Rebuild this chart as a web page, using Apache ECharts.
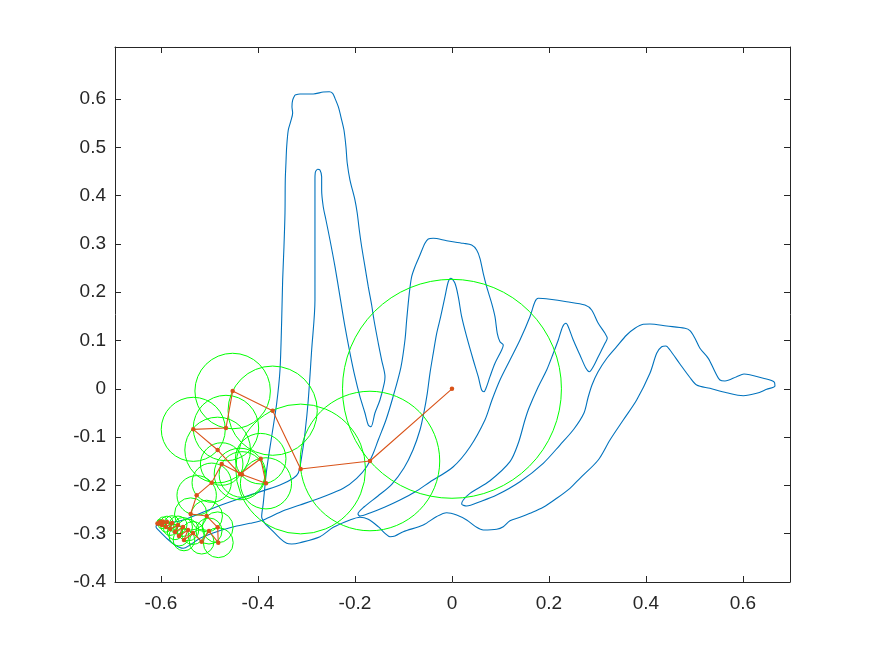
<!DOCTYPE html>
<html><head><meta charset="utf-8">
<script src="https://cdn.jsdelivr.net/npm/echarts@6/dist/echarts.min.js"></script>
<style>html,body{margin:0;padding:0;background:#fff;}#c{width:875px;height:656px;}</style>
</head><body><div id="c"></div>
<script>
const xTicks = [-0.6,-0.4,-0.2,0,0.2,0.4,0.6];
const yTicks = [-0.4,-0.3,-0.2,-0.1,0,0.1,0.2,0.3,0.4,0.5,0.6];

// outline, in data units
const leftEdge = [[-0.3237,0.6083],[-0.3285,0.5979],[-0.3299,0.5841],[-0.3285,0.5710],[-0.3326,0.5530],[-0.3375,0.5358],[-0.3408,0.5012],[-0.3423,0.4675],[-0.3437,0.4323],[-0.3443,0.3640],[-0.3464,0.2942],[-0.3491,0.2253],[-0.3511,0.1424],[-0.3546,0.0389],[-0.3614,-0.0300],[-0.3718,-0.0992],[-0.3821,-0.1681],[-0.3891,-0.2371],[-0.3924,-0.2648],[-0.3856,-0.2785],[-0.3753,-0.2888],[-0.3546,-0.3095],[-0.3408,-0.3199],[-0.3305,-0.3213]];
const bottomEdge = [[-0.3134,-0.3186],[-0.2722,-0.3062],[-0.2447,-0.2868],[-0.2103,-0.2716],[-0.1897,-0.2660],[-0.1726,-0.2702],[-0.1520,-0.2855],[-0.1381,-0.2992],[-0.1278,-0.3062],[-0.1175,-0.3048],[-0.1004,-0.2959],[-0.0592,-0.2820],[-0.0315,-0.2644],[-0.0109,-0.2565],[0.0097,-0.2613],[0.0303,-0.2716],[0.0509,-0.2868],[0.0645,-0.2923],[0.0922,-0.2909],[0.1058,-0.2855],[0.1196,-0.2731],[0.1402,-0.2660],[0.1608,-0.2578],[0.1882,-0.2453],[0.2159,-0.2267],[0.2433,-0.2060],[0.2639,-0.1853],[0.3016,-0.1474],[0.3258,-0.1060],[0.3532,-0.0646],[0.3808,-0.0232],[0.4082,0.0321],[0.4221,0.0735],[0.4324,0.0872]];
const finger5 = [[0.4412,0.0886],[0.4495,0.0803],[0.4701,0.0513],[0.4907,0.0234],[0.5045,0.0079],[0.5320,0.0010],[0.5664,-0.0081],[0.6006,-0.0143],[0.6282,-0.0093],[0.6489,-0.0010],[0.6660,0.0058],[0.6639,0.0147],[0.6419,0.0217],[0.6021,0.0306],[0.5870,0.0251],[0.5629,0.0161],[0.5526,0.0182],[0.5423,0.0354],[0.5285,0.0631],[0.5113,0.0839],[0.5010,0.1046],[0.4907,0.1203],[0.4804,0.1253],[0.4427,0.1300],[0.4082,0.1342],[0.3944,0.1335],[0.3773,0.1253],[0.3602,0.1114],[0.3396,0.0872],[0.3190,0.0627],[0.3010,0.0348],[0.2887,0.0079],[0.2804,-0.0190],[0.2722,-0.0501],[0.2515,-0.0832],[0.2227,-0.1164],[0.1882,-0.1542],[0.1402,-0.1923],[0.0922,-0.2199],[0.0577,-0.2337],[0.0303,-0.2427],[0.0200,-0.2385]];
const finger4 = [[0.0233,-0.2302],[0.0371,-0.2164],[0.0784,-0.1903],[0.1196,-0.1509],[0.1367,-0.1128],[0.1505,-0.0646],[0.1588,-0.0398],[0.1779,0.0043],[0.1953,0.0389],[0.2089,0.0735],[0.2192,0.1010],[0.2282,0.1286],[0.2351,0.1356],[0.2398,0.1286],[0.2501,0.1010],[0.2639,0.0700],[0.2763,0.0424],[0.2831,0.0354],[0.2913,0.0458],[0.3016,0.0665],[0.3155,0.0942],[0.3202,0.1046],[0.3155,0.1149],[0.3016,0.1356],[0.2880,0.1631],[0.2742,0.1735],[0.2365,0.1803],[0.2021,0.1853],[0.1779,0.1874],[0.1711,0.1803],[0.1608,0.1493],[0.1402,0.1010],[0.1196,0.0596],[0.0990,0.0182],[0.0825,-0.0232],[0.0680,-0.0646],[0.0371,-0.1205],[0.0021,-0.1619],[-0.0454,-0.1930]];
const hook2 = [[-0.0763,-0.2137],[-0.1072,-0.2302],[-0.1381,-0.2447],[-0.1691,-0.2571],[-0.1897,-0.2634],[-0.1938,-0.2592],[-0.1814,-0.2447],[-0.1526,-0.2219],[-0.1237,-0.1971],[-0.0990,-0.1640],[-0.0804,-0.1267],[-0.0660,-0.0853],[-0.0577,-0.0480]];
const finger3 = [[-0.0509,-0.0093],[-0.0454,0.0321],[-0.0386,0.0735],[-0.0315,0.1149],[-0.0233,0.1493],[-0.0144,0.1907],[-0.0076,0.2217],[-0.0021,0.2288],[0.0062,0.2184],[0.0130,0.1907],[0.0200,0.1493],[0.0303,0.1079],[0.0439,0.0596],[0.0542,0.0251],[0.0612,-0.0025],[0.0660,-0.0060],[0.0701,0.0010],[0.0784,0.0251],[0.0887,0.0528],[0.1025,0.0803],[0.1058,0.0907],[0.0990,0.0975],[0.0934,0.1149],[0.0887,0.1493],[0.0819,0.1770],[0.0715,0.2114],[0.0645,0.2391],[0.0577,0.2702],[0.0509,0.2874],[0.0406,0.2977],[0.0233,0.3012],[-0.0109,0.3066],[-0.0386,0.3116],[-0.0489,0.3101],[-0.0557,0.3012],[-0.0660,0.2770],[-0.0763,0.2528],[-0.0831,0.2321],[-0.0880,0.1977],[-0.0934,0.1424],[-0.0969,0.1010],[-0.1052,0.0451],[-0.1216,-0.0170],[-0.1361,-0.0646],[-0.1520,-0.1060],[-0.1623,-0.1335],[-0.1759,-0.1613],[-0.1965,-0.1853],[-0.2241,-0.2060],[-0.2654,-0.2234]];
const tipStrands = [[-0.3134,-0.2406],[-0.3478,-0.2524],[-0.3891,-0.2716],[-0.4165,-0.2785],[-0.4439,-0.2841],[-0.4852,-0.2959],[-0.5196,-0.3095],[-0.5402,-0.3234],[-0.5540,-0.3302],[-0.5711,-0.3234],[-0.5882,-0.3095],[-0.6056,-0.2923],[-0.6103,-0.2855],[-0.6076,-0.2820],[-0.5882,-0.2785],[-0.5540,-0.2716],[-0.4852,-0.2441],[-0.4165,-0.2199],[-0.3546,-0.1992],[-0.3272,-0.1853],[-0.3169,-0.1743],[-0.3099,-0.1406],[-0.3031,-0.0915],[-0.2963,-0.0232],[-0.2893,0.0803],[-0.2825,0.1839],[-0.2825,0.2942],[-0.2825,0.3640],[-0.2825,0.4323]];
const slotAndTop = [[-0.2819,0.4474],[-0.2769,0.4545],[-0.2722,0.4530],[-0.2687,0.4391],[-0.2687,0.4116],[-0.2654,0.3770],[-0.2598,0.3495],[-0.2515,0.3081],[-0.2412,0.2528],[-0.2309,0.1907],[-0.2206,0.1286],[-0.2103,0.0741],[-0.2000,0.0251],[-0.1897,-0.0164],[-0.1794,-0.0501],[-0.1726,-0.0749],[-0.1670,-0.0785],[-0.1588,-0.0501],[-0.1485,-0.0232],[-0.1396,0.0120],[-0.1381,0.0251],[-0.1450,0.0596],[-0.1520,0.0948],[-0.1608,0.1424],[-0.1656,0.1735],[-0.1726,0.2114],[-0.1794,0.2528],[-0.1862,0.2942],[-0.1911,0.3288],[-0.1953,0.3634],[-0.2000,0.3909],[-0.2103,0.4323],[-0.2159,0.4669],[-0.2186,0.5012],[-0.2227,0.5358],[-0.2274,0.5565],[-0.2344,0.5841],[-0.2412,0.6014],[-0.2460,0.6118],[-0.2530,0.6151],[-0.2654,0.6145],[-0.2860,0.6104],[-0.3134,0.6104],[-0.3237,0.6083]];

// epicycle chain (joint positions)
const chainX = [0,-0.1691,-0.3120,-0.3697,-0.4522,-0.4660,-0.5334,-0.4831,-0.4371,-0.3944,-0.3835,-0.4330,-0.4748,-0.4955,-0.5264,-0.5388,-0.5058,-0.4831,-0.4819,-0.5010,-0.5161,-0.5340,-0.5526,-0.5443,-0.5629,-0.5546,-0.5711,-0.5649,-0.5814,-0.5773,-0.5897,-0.5876,-0.5979,-0.5959,-0.6041,-0.6021,-0.6072];
const chainY = [0,-0.1495,-0.1660,-0.0453,-0.0046,-0.0812,-0.0839,-0.1267,-0.1764,-0.1447,-0.1957,-0.1774,-0.1557,-0.1944,-0.2205,-0.2592,-0.2634,-0.2868,-0.3186,-0.2944,-0.3166,-0.2986,-0.3130,-0.2923,-0.3048,-0.2861,-0.2965,-0.2820,-0.2903,-0.2778,-0.2861,-0.2758,-0.2820,-0.2748,-0.2791,-0.2760,-0.2791];

const outline = [].concat(leftEdge, bottomEdge, finger5, finger4, hook2, finger3, tipStrands, slotAndTop);
const chain = chainX.map((x,i)=>[x, chainY[i]]);
const circles = [];
for (let i = 0; i < chain.length - 1; i++) {
  const dx = chain[i+1][0]-chain[i][0], dy = chain[i+1][1]-chain[i][1];
  circles.push([chain[i][0], chain[i][1], Math.sqrt(dx*dx+dy*dy)]);
}

const fmt = v => String(Math.round(v*10)/10);
const axisColor = '#262626';
const font = {color: axisColor, fontSize: 19, fontFamily: 'Liberation Sans, Arial, sans-serif'};
const XMIN = -0.6948, XMAX = 0.697, YMIN = -0.4, YMAX = 0.7077;

function xa(pos, labels) {
  return {type:'value', min:XMIN, max:XMAX, position:pos, gridIndex:0,
    axisLine:{show:true, onZero:false, lineStyle:{color:axisColor, width:1}},
    axisTick:{show:true, inside:true, length:6, customValues:xTicks, lineStyle:{color:axisColor, width:1}},
    axisLabel:Object.assign({show:labels, customValues:xTicks, margin:12, formatter:fmt}, font),
    splitLine:{show:false}};
}
function ya(pos, labels) {
  return {type:'value', min:YMIN, max:YMAX, position:pos, gridIndex:0,
    axisLine:{show:true, onZero:false, lineStyle:{color:axisColor, width:1}},
    axisTick:{show:true, inside:true, length:6, customValues:yTicks, lineStyle:{color:axisColor, width:1}},
    axisLabel:Object.assign({show:labels, customValues:yTicks, margin:9, formatter:fmt}, font),
    splitLine:{show:false}};
}

const chart = echarts.init(document.getElementById('c'), null, {renderer:'canvas'});
chart.setOption({
  animation:false,
  backgroundColor:'#ffffff',
  grid:{left:115, right:85, top:47, bottom:74, containLabel:false},
  xAxis:[xa('bottom', true), xa('top', false)],
  yAxis:[ya('left', true), ya('right', false)],
  series:[
    {type:'line', data:outline, xAxisIndex:0, yAxisIndex:0, showSymbol:false, symbol:'none', smooth:0.3,
     lineStyle:{color:'#0072BD', width:1.1}, silent:true, z:1},
    {type:'custom', xAxisIndex:0, yAxisIndex:0, data:circles, silent:true, z:2,
     renderItem:(params, api)=>{
       const c = api.coord([api.value(0), api.value(1)]);
       const r = api.size([api.value(2), 0])[0];
       return {type:'circle', shape:{cx:c[0], cy:c[1], r:r}, style:{fill:null, stroke:'#00FF00', lineWidth:1}};
     }},
    {type:'line', data:chain, xAxisIndex:0, yAxisIndex:0, symbol:'circle', symbolSize:4.5, showSymbol:true,
     itemStyle:{color:'#D95319'}, lineStyle:{color:'#D95319', width:1.1}, silent:true, z:3}
  ]
});
</script></body></html>
